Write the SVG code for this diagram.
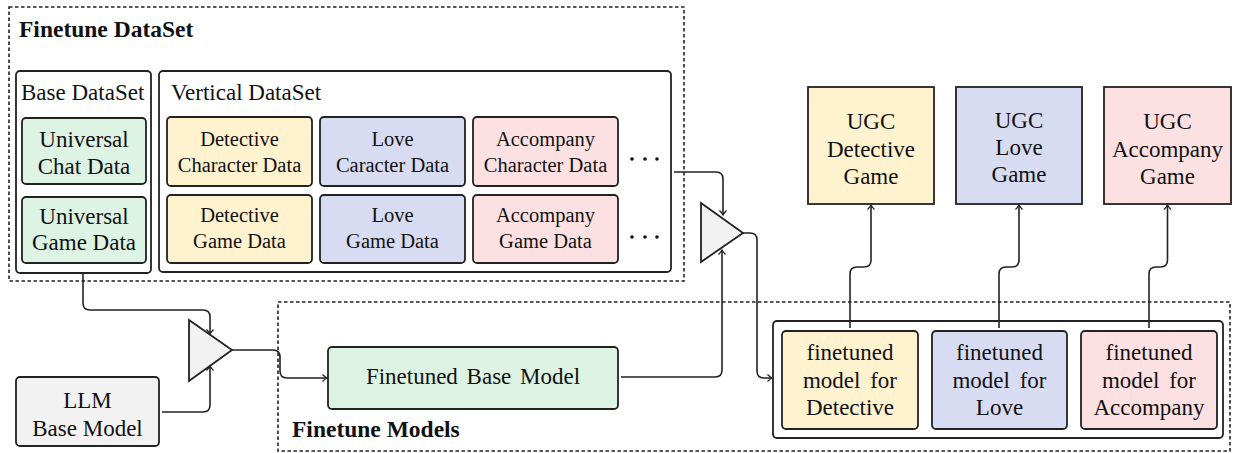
<svg xmlns="http://www.w3.org/2000/svg" width="1239" height="453" viewBox="0 0 1239 453">
<style>
text{font-family:"Liberation Serif","Times New Roman",serif;fill:#111;}
.t{font-size:23px;text-anchor:middle;}
.s{font-size:20.5px;text-anchor:middle;}
.l{font-size:23px;}
.b{font-size:23.5px;font-weight:bold;}
.dash{fill:none;stroke:#222;stroke-width:1.6;stroke-dasharray:3.5,2.5;}
.box{stroke:#222;stroke-width:1.8;}
.cont{fill:#fff;stroke:#222;stroke-width:1.8;}
.y{fill:#fff2cf;}
.bl{fill:#d8dcf2;}
.p{fill:#fde1e2;}
.g{fill:#ddf3e4;}
.gr{fill:#f2f2f2;}
.tri{fill:#f2f2f2;stroke:#222;stroke-width:1.8;stroke-linejoin:miter;}
.c{fill:none;stroke:#222;stroke-width:1.6;}
</style>
<defs>
<marker id="ah" markerWidth="10" markerHeight="10" refX="7" refY="5" orient="auto" markerUnits="userSpaceOnUse">
<path d="M2.5,1.5 Q5,4 7,5 Q5,6 2.5,8.5" fill="none" stroke="#222" stroke-width="1.3"/>
</marker>
</defs>

<g id="finetune-dataset">
<rect class="dash" x="9" y="7" width="675" height="274"/>
<text class="b" x="19" y="37">Finetune DataSet</text>
</g>

<g id="base-dataset">
<rect class="cont" x="16" y="71" width="135" height="202" rx="4"/>
<text class="l" x="21" y="100">Base DataSet</text>
</g>
<g id="universal-chat">
<rect class="box g" x="22" y="118" width="124" height="66" rx="4"/>
<text class="t" x="84" y="147">Universal</text>
<text class="t" x="84" y="174">Chat Data</text>
</g>
<g id="universal-game">
<rect class="box g" x="22" y="197" width="124" height="66" rx="4"/>
<text class="t" x="84" y="224">Universal</text>
<text class="t" x="84" y="250">Game Data</text>
</g>

<g id="vertical-dataset">
<rect class="cont" x="159" y="71" width="512" height="201" rx="4"/>
<text class="l" x="171" y="100">Vertical DataSet</text>
<circle cx="632" cy="159" r="1.8" fill="#111"/><circle cx="645" cy="159" r="1.8" fill="#111"/><circle cx="657" cy="159" r="1.8" fill="#111"/>
<circle cx="632" cy="237" r="1.8" fill="#111"/><circle cx="645" cy="237" r="1.8" fill="#111"/><circle cx="657" cy="237" r="1.8" fill="#111"/>
</g>
<g id="detective-character">
<rect class="box y" x="167" y="117" width="145" height="69" rx="4"/>
<text class="s" x="239.5" y="146">Detective</text>
<text class="s" x="239.5" y="172">Character Data</text>
</g>
<g id="detective-game">
<rect class="box y" x="167" y="195" width="145" height="68" rx="4"/>
<text class="s" x="239.5" y="222">Detective</text>
<text class="s" x="239.5" y="248">Game Data</text>
</g>
<g id="love-character">
<rect class="box bl" x="320" y="117" width="145" height="69" rx="4"/>
<text class="s" x="392.5" y="146">Love</text>
<text class="s" x="392.5" y="172">Caracter Data</text>
</g>
<g id="love-game">
<rect class="box bl" x="320" y="195" width="145" height="68" rx="4"/>
<text class="s" x="392.5" y="222">Love</text>
<text class="s" x="392.5" y="248">Game Data</text>
</g>
<g id="accompany-character">
<rect class="box p" x="473" y="117" width="145" height="69" rx="4"/>
<text class="s" x="545.5" y="146">Accompany</text>
<text class="s" x="545.5" y="172">Character Data</text>
</g>
<g id="accompany-game">
<rect class="box p" x="473" y="195" width="145" height="68" rx="4"/>
<text class="s" x="545.5" y="222">Accompany</text>
<text class="s" x="545.5" y="248">Game Data</text>
</g>

<g id="llm-base-model">
<rect class="box gr" x="16" y="377" width="143" height="69" rx="4"/>
<text class="t" x="87.5" y="408">LLM</text>
<text class="t" x="87.5" y="436">Base Model</text>
</g>

<g id="merge-1">
<polygon class="tri" points="189,320 232,350 189,381"/>
</g>
<g id="merge-2">
<polygon class="tri" points="701,203 743,233 701,262"/>
</g>

<g id="finetune-models">
<rect class="dash" x="278" y="302" width="952" height="149"/>
<text class="b" x="292" y="437">Finetune Models</text>
</g>
<g id="finetuned-base-model">
<rect class="box g" x="328" y="347" width="290" height="62" rx="4"/>
<text class="t" x="473" y="384" word-spacing="3">Finetuned Base Model</text>
</g>

<g id="finetuned-container">
<rect class="cont" x="773" y="321" width="450" height="117" rx="4"/>
</g>
<g id="ft-detective">
<rect class="box y" x="782" y="331" width="136" height="98" rx="4"/>
<text class="t" x="850" y="360">finetuned</text>
<text class="t" x="850" y="388" word-spacing="4">model for</text>
<text class="t" x="850" y="415">Detective</text>
</g>
<g id="ft-love">
<rect class="box bl" x="932" y="331" width="135" height="98" rx="4"/>
<text class="t" x="999.5" y="360">finetuned</text>
<text class="t" x="999.5" y="388" word-spacing="4">model for</text>
<text class="t" x="999.5" y="415">Love</text>
</g>
<g id="ft-accompany">
<rect class="box p" x="1081" y="331" width="136" height="98" rx="4"/>
<text class="t" x="1149" y="360">finetuned</text>
<text class="t" x="1149" y="388" word-spacing="4">model for</text>
<text class="t" x="1149" y="415">Accompany</text>
</g>

<g id="ugc-detective">
<rect class="box y" x="808" y="87" width="126" height="117"/>
<text class="t" x="871" y="129">UGC</text>
<text class="t" x="871" y="157">Detective</text>
<text class="t" x="871" y="184">Game</text>
</g>
<g id="ugc-love">
<rect class="box bl" x="956" y="87" width="126" height="117"/>
<text class="t" x="1019" y="128">UGC</text>
<text class="t" x="1019" y="155">Love</text>
<text class="t" x="1019" y="182">Game</text>
</g>
<g id="ugc-accompany">
<rect class="box p" x="1104" y="87" width="127" height="117"/>
<text class="t" x="1167.5" y="129">UGC</text>
<text class="t" x="1167.5" y="157">Accompany</text>
<text class="t" x="1167.5" y="184">Game</text>
</g>

<g id="connectors">
<path class="c" d="M83,273 V303 Q83,310 90,310 H203 Q210,310 210,317 V334" marker-end="url(#ah)"/>
<path class="c" d="M162,412 H203 Q210,412 210,405 V366" marker-end="url(#ah)"/>
<path class="c" d="M232,350 H273 Q280,350 280,357 V371 Q280,378 287,378 H327" marker-end="url(#ah)"/>
<path class="c" d="M621,377 H715 Q722,377 722,370 V250" marker-end="url(#ah)"/>
<path class="c" d="M674,172 H716 Q723,172 723,179 V215" marker-end="url(#ah)"/>
<path class="c" d="M743,233 H750 Q757,233 757,240 V371 Q757,378 764,378 H772" marker-end="url(#ah)"/>
<path class="c" d="M850,328 V274 Q850,267 857,267 H864 Q871,267 871,260 V205" marker-end="url(#ah)"/>
<path class="c" d="M999,328 V274 Q999,267 1006,267 H1012 Q1019,267 1019,260 V205" marker-end="url(#ah)"/>
<path class="c" d="M1149,328 V274 Q1149,267 1156,267 H1160.5 Q1167.5,267 1167.5,260 V205" marker-end="url(#ah)"/>
</g>
</svg>
